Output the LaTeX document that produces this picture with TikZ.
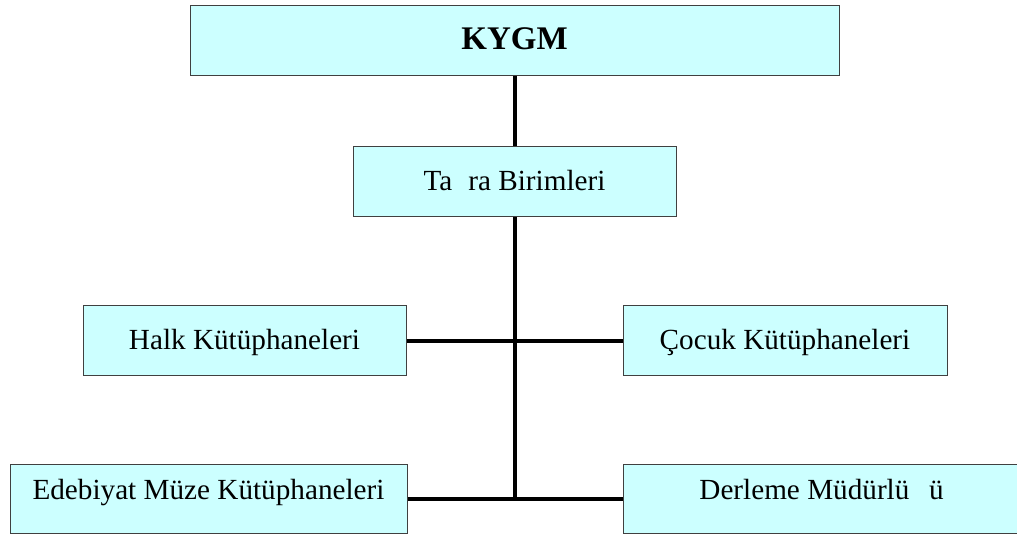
\documentclass[tikz,border=0pt]{standalone}
\usepackage{fontspec}
\setmainfont{Liberation Serif}
\definecolor{boxfill}{HTML}{CCFFFF}
\definecolor{boxline}{HTML}{404040}
\tikzset{
  unit/.style={draw=boxline, fill=boxfill, line width=0.5pt, inner sep=2pt,
    minimum height=35pt, text height=10pt, text depth=1.5pt,
    font=\fontsize{14.6}{17}\selectfont},
  lowunit/.style={unit, minimum height=34.5pt, text depth=9.5pt},
}
\begin{document}
\begin{tikzpicture}[x=0.5pt, y=-0.5pt]
\useasboundingbox (0,0) rectangle (1017,534);
\clip (0,0) rectangle (1017,534);

\node [unit, minimum width=324.5pt, font=\fontsize{16.5}{19}\selectfont\bfseries] (kygm) at (514.5,41) {KYGM};
\node [unit, minimum width=161.5pt] (tasra) at (514.5,182) {Ta\hspace{0.3em} ra Birimleri};

\node [unit, minimum width=161.5pt] (halk) at (244.5,340.5) {Halk Kütüphaneleri};
\node [unit, minimum width=162pt] (cocuk) at (785,340.5) {Çocuk Kütüphaneleri};

\node [lowunit, minimum width=198.5pt] (edeb) at (208.5,498.5) {Edebiyat Müze Kütüphaneleri};
\node [lowunit, minimum width=198.5pt] (derl) at (821.5,498.5) {Derleme Müdürlü\hspace{0.42em} ü};

\coordinate (foot) at (tasra.south |- edeb.east);

\begin{scope}[line width=2pt]
\draw (kygm.south) -- (tasra.north);
\draw (tasra.south) -- (foot);
\draw (halk.east) -- (cocuk.west);
\draw (edeb.east) -- (derl.west);
\end{scope}

\end{tikzpicture}
\end{document}
